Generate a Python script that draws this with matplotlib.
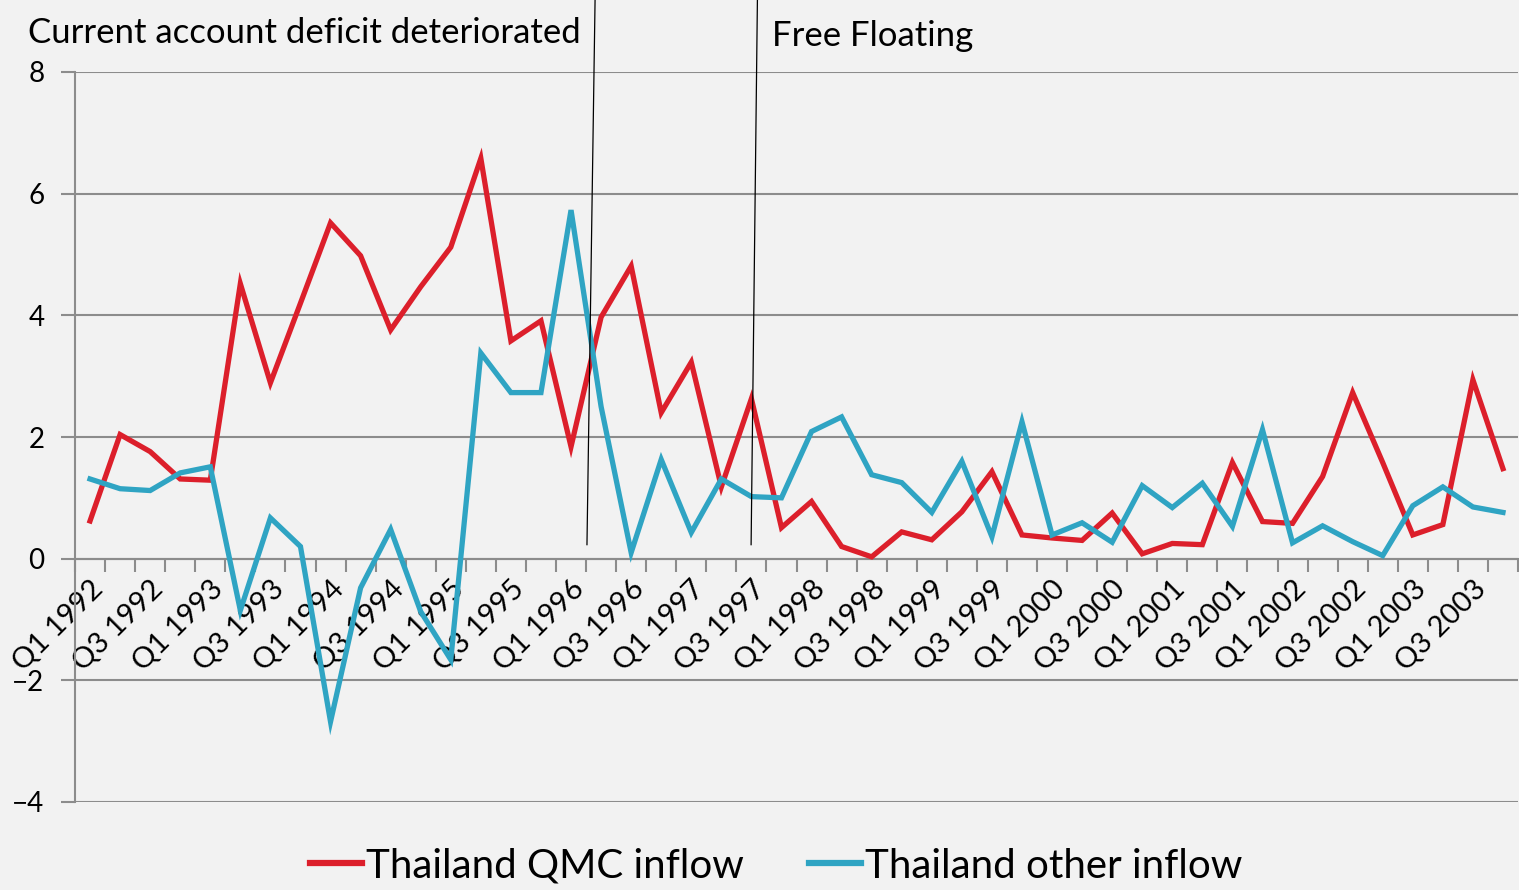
import numpy as np
import matplotlib
matplotlib.use("Agg")
import matplotlib.pyplot as plt

# quarters Q1 1992 .. Q4 2003
years = list(range(1992, 2004))
quarters = ["Q%d %d" % (q, y) for y in years for q in (1, 2, 3, 4)]

qmc_inflow = [0.62, 2.04, 1.76, 1.31, 1.29, 4.52, 2.89, 4.20, 5.52, 4.98, 3.76, 4.47,
              5.12, 6.58, 3.58, 3.91, 1.84, 3.97, 4.81, 2.40, 3.23, 1.18, 2.63, 0.51,
              0.94, 0.20, 0.03, 0.44, 0.31, 0.77, 1.43, 0.39, 0.34, 0.30, 0.75, 0.08,
              0.25, 0.23, 1.58, 0.61, 0.58, 1.35, 2.73, 1.58, 0.39, 0.56, 2.94, 1.48]

other_inflow = [1.31, 1.15, 1.12, 1.41, 1.51, -0.85, 0.67, 0.20, -2.68, -0.48, 0.48, -0.87,
                -1.66, 3.38, 2.73, 2.73, 5.73, 2.50, 0.10, 1.63, 0.43, 1.31, 1.02, 1.00,
                2.09, 2.33, 1.38, 1.25, 0.76, 1.60, 0.36, 2.25, 0.39, 0.59, 0.27, 1.20,
                0.84, 1.24, 0.53, 2.12, 0.26, 0.54, 0.28, 0.05, 0.87, 1.18, 0.85, 0.76]

yticks = [-4, -2, 0, 2, 4, 6, 8]
ytick_labels = ["\u22124", "\u22122", "0", "2", "4", "6", "8"]

plt.rcParams['font.family'] = ['Lato', 'DejaVu Sans']

bg = "#f2f2f2"
grid_c = "#8c8c8c"
red = "#dc1f2b"
blue = "#2fa4c3"

fig = plt.figure(figsize=(15.19, 8.90), dpi=100, facecolor=bg)
ax = fig.add_axes([75/1519, 88/890, 1443/1519, 730/890])
ax.set_facecolor(bg)

x = np.arange(len(quarters))
ax.plot(x, qmc_inflow, color=red, lw=3.8, label="Thailand QMC inflow", solid_joinstyle="miter", zorder=3)
ax.plot(x, other_inflow, color=blue, lw=3.8, label="Thailand other inflow", solid_joinstyle="miter", zorder=3)

ax.set_xlim(-0.5, 47.5)
ax.set_ylim(-4, 8)

# horizontal gridlines
ax.set_yticks(yticks)
ax.set_yticklabels(ytick_labels, fontsize=20)
ax.yaxis.grid(True, color=grid_c, lw=1.5)
ax.tick_params(axis="y", length=10, color=grid_c, width=1.5, pad=12)
ax.set_axisbelow(True)

for s in ["top", "right"]:
    ax.spines[s].set_visible(False)
ax.spines["left"].set_color(grid_c)
ax.spines["left"].set_linewidth(1.5)
ax.spines["bottom"].set_position(("data", 0))
ax.spines["bottom"].set_color(grid_c)
ax.spines["bottom"].set_linewidth(1.5)

# x labels every second quarter, tick marks between quarters
ax.set_xticks(x[::2])
ax.set_xticklabels(quarters[::2], rotation=45, ha="right", va="top",
                   rotation_mode="anchor", fontsize=21)
ax.set_xticks(np.arange(-0.5, 48, 1), minor=True)
ax.tick_params(axis="x", which="major", length=0, pad=12)
ax.tick_params(axis="x", which="minor", length=9, color=grid_c, width=1.5)
for lbl in ax.get_xticklabels():
    lbl.set_zorder(5)

# event markers
ax.plot([16.8, 16.53], [9.2, 0.23], color="black", lw=0.9, clip_on=False, zorder=4)
ax.plot([22.2, 21.99], [9.2, 0.23], color="black", lw=0.9, clip_on=False, zorder=4)
fig.text(28/1519, 1 - 33/890, "Current account deficit deteriorated", fontsize=25,
         ha="left", va="center")
fig.text(772/1519, 1 - 36/890, "Free Floating", fontsize=25, ha="left", va="center")

leg = fig.legend(loc="center", bbox_to_anchor=(0.511, 1 - 866/890), ncol=2, frameon=False,
                 fontsize=29, handlelength=1.3, handletextpad=0.1, columnspacing=1.6)
for h in leg.legend_handles:
    h.set_linewidth(4.5)

fig.savefig("out.png", dpi=100, facecolor=bg)
